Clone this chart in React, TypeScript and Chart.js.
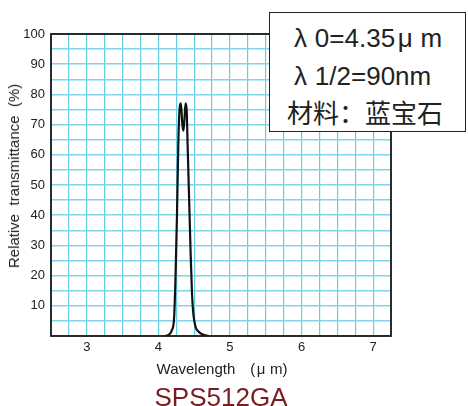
import React, { useEffect, useRef } from "react";
import { Chart, registerables } from "chart.js";

Chart.register(...registerables);

const wavelengths = [4.1, 4.15, 4.19, 4.22, 4.24, 4.26, 4.28, 4.3, 4.315, 4.335, 4.35, 4.365, 4.38, 4.395, 4.41, 4.43, 4.45, 4.47, 4.49, 4.52, 4.56, 4.62, 4.7];
const transmittance = [0, 0.5, 2, 6, 20, 40, 65, 76, 77, 70, 68, 72, 77, 75, 62, 45, 28, 14, 7, 3, 1.5, 0.5, 0];
const xTickLabels = [3, 4, 5, 6, 7];
const yTickLabels = [10, 20, 30, 40, 50, 60, 70, 80, 90, 100];
const infoLines = ["λ0=4.35μm", "λ1/2=90nm", "材料：蓝宝石"];
const xTitle = "Wavelength　(μm)";
const yTitle = "Relative  transmittance  (%)";
const productName = "SPS512GA";

const frame = {
  id: "frame",
  afterDraw(chart: any) {
    const { ctx, chartArea: a } = chart;
    ctx.save();
    ctx.strokeStyle = "#1a1a1a";
    ctx.lineWidth = 1.8;
    ctx.strokeRect(a.left, a.top, a.right - a.left, a.bottom - a.top);
    ctx.restore();
  },
};

function WideGreek({ text }: { text: string }) {
  const parts = Array.from(text);
  return (
    <>
      {parts.map((c, i) =>
        c === "λ" || c === "μ" ? (
          <span key={i} style={{ marginRight: "0.3em", marginLeft: c === "μ" ? "0.1em" : 0 }}>
            {c}
          </span>
        ) : (
          <React.Fragment key={i}>{c}</React.Fragment>
        )
      )}
    </>
  );
}

export default function App() {
  const ref = useRef<HTMLCanvasElement>(null);
  useEffect(() => {
    document.body.style.margin = "0";
    const data = wavelengths.map((x, i) => ({ x, y: transmittance[i] }));
    const chart = new Chart(ref.current as HTMLCanvasElement, {
      type: "line",
      data: {
        datasets: [
          {
            data,
            borderColor: "#111",
            borderWidth: 2.2,
            pointRadius: 0,
            tension: 0.4,
            cubicInterpolationMode: "monotone",
            fill: false,
          },
        ],
      },
      options: {
        animation: false,
        responsive: false,
        layout: { padding: { top: 34, right: 77, left: 0, bottom: 0 } },
        plugins: { legend: { display: false }, tooltip: { enabled: false } },
        scales: {
          x: {
            type: "linear",
            min: 2.5,
            max: 7.25,
            afterFit: (s: any) => {
              s.height = 70;
            },
            afterBuildTicks: (s: any) => {
              const t = [];
              for (let i = 0; i <= 19; i++) t.push({ value: 2.5 + i * 0.25 });
              s.ticks = t;
            },
            ticks: {
              autoSkip: false,
              maxRotation: 0,
              padding: 4,
              color: "#222",
              font: { family: "Liberation Sans, Arial, sans-serif", size: 13 },
              callback: (v: any) => (xTickLabels.includes(Number(v)) ? String(v) : ""),
            },
            grid: { color: "#62cde3", lineWidth: 1.2, drawTicks: false },
            border: { display: false },
          },
          y: {
            min: 0,
            max: 100,
            afterFit: (s: any) => {
              s.width = 51;
            },
            afterBuildTicks: (s: any) => {
              const t = [];
              for (let i = 0; i <= 20; i++) t.push({ value: i * 5 });
              s.ticks = t;
            },
            ticks: {
              autoSkip: false,
              padding: 6,
              color: "#222",
              font: { family: "Liberation Sans, Arial, sans-serif", size: 13 },
              callback: (v: any) => (yTickLabels.includes(Number(v)) ? String(v) : ""),
            },
            grid: { color: "#7fd6ea", lineWidth: 1.5, drawTicks: false },
            border: { display: false },
          },
        },
      },
      plugins: [frame],
    } as any);
    return () => chart.destroy();
  }, []);

  const font = "Liberation Sans, Arial, 'Noto Sans CJK SC', sans-serif";
  return (
    <div style={{ position: "relative", width: 468, height: 406, background: "#fff", overflow: "hidden", fontFamily: font }}>
      <canvas ref={ref} width={468} height={406} style={{ position: "absolute", left: 0, top: 0 }} />
      <div style={{ position: "absolute", left: 0, top: 176, width: 28, height: 0 }}>
        <div
          style={{
            position: "absolute",
            left: 14,
            top: 0,
            transform: "translate(-50%, -50%) rotate(-90deg)",
            whiteSpace: "pre",
            fontSize: 15,
            lineHeight: "18px",
            color: "#222",
          }}
        >
          {yTitle}
        </div>
      </div>
      <div style={{ position: "absolute", left: 0, width: 444, top: 360, textAlign: "center", fontSize: 15, lineHeight: "18px", color: "#222", whiteSpace: "pre" }}>
        <WideGreek text={xTitle} />
      </div>
      <div style={{ position: "absolute", left: 0, width: 442, top: 382, textAlign: "center", fontSize: 26, color: "#7a1c22", lineHeight: "30px" }}>
        {productName}
      </div>
      <div
        style={{
          position: "absolute",
          left: 269,
          top: 12,
          width: 197,
          height: 120,
          background: "#fff",
          border: "1.5px solid #222",
          boxSizing: "border-box",
          color: "#222",
        }}
      >
        {infoLines.map((t, i) => (
          <div
            key={i}
            style={{
              position: "absolute",
              left: i === 2 ? 17 : 24,
              top: 10 + i * 38,
              fontSize: 26,
              lineHeight: "30px",
              whiteSpace: "pre",
            }}
          >
            <WideGreek text={t} />
          </div>
        ))}
      </div>
    </div>
  );
}
